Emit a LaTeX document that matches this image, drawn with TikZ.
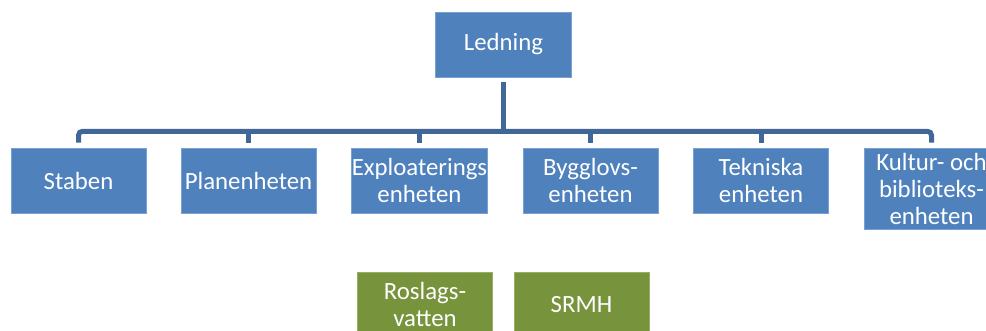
\documentclass[tikz,border=0pt]{standalone}
\usepackage{fontspec}
\setmainfont{Carlito}
\definecolor{boxblue}{RGB}{79,129,189}
\definecolor{boxedge}{RGB}{120,160,210}
\definecolor{linecol}{RGB}{64,103,152}
\definecolor{boxgreen}{RGB}{119,147,60}
\definecolor{greenedge}{RGB}{150,175,100}
\begin{document}
\begin{tikzpicture}[x=1pt,y=-1pt,
  unit/.style={rectangle,fill=boxblue,draw=boxedge,line width=0.6pt,
    minimum width=135pt,minimum height=65pt,inner sep=0pt,align=center,
    text=white,font=\fontsize{24.8}{27}\selectfont},
  gunit/.style={unit,fill=boxgreen,draw=greenedge},
  conn/.style={draw=linecol,line width=5pt}]
\useasboundingbox (0,0) rectangle (986,331);
\clip (0,0) rectangle (986,331);
\node[unit,minimum width=136pt] (led) at (503.5,44.5) {Ledning};
\node[unit] (stab) at (78.5,180.5) {Staben};
\node[unit] (plan) at (248.5,180.5) {Planenheten};
\node[unit] (expl) at (419.5,180.5) {Exploaterings\\enheten};
\node[unit] (bygg) at (590.5,180.5) {Bygglovs-\\enheten};
\node[unit] (tekn) at (761,180.5) {Tekniska\\enheten};
\node[unit,minimum height=81pt] (kult) at (931.5,188.5) {Kultur- och\\biblioteks-\\enheten};
\node[gunit] (ros) at (425,304.5) {Roslags-\\vatten};
\node[gunit] (srmh) at (581.5,304.5) {SRMH};
\coordinate (bar) at ([yshift=-54pt]led.south);
\draw[conn] ([yshift=-5pt]led.south) -- (bar);
\draw[conn,rounded corners=4pt] ([yshift=5pt]stab.north) |- (bar) -| ([yshift=5pt]kult.north);
\foreach \c in {plan,expl,bygg,tekn}{
  \draw[conn] (bar -| \c.north) -- ([yshift=5pt]\c.north);
}
\end{tikzpicture}
\end{document}
